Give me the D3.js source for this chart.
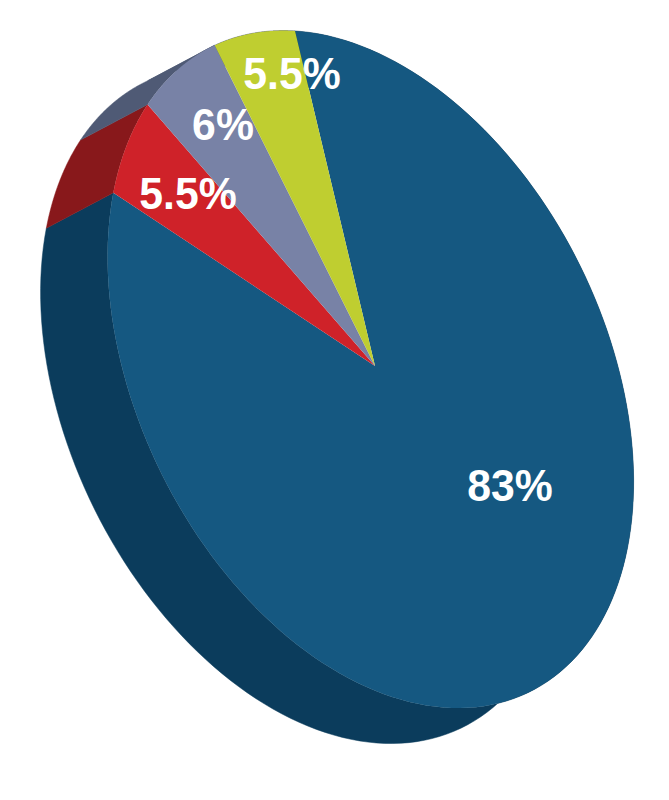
<!DOCTYPE html>
<html><head><meta charset="utf-8">
<style>html,body{margin:0;padding:0;background:#fff}svg{display:block}</style>
<script src="https://cdn.jsdelivr.net/npm/d3@7"></script></head>
<body><svg id="c" width="669" height="800"></svg>
<script>
const labels=["83%","5.5%","6%","5.5%"];
const shares=[83,5.5,6,5.5];
const topColors=["#155881","#cf2229","#7882a6","#bfce30"];
const sideColors=["#0b3c5c","#88181b","#4f5a75","#4f5a75"];
const labelPos=[[510,485],[188,193],[223,124],[292,73]];

const svg=d3.select("#c");
const cx=375,cy=366;
const U=[-80.8,-338.5],V=[250.2,9],W=[0.0103,0.0209];
const depth=[-67,35.5];
// perspective projection of the pie's unit circle on to the page
const rimPoint=t=>{
  const c=Math.cos(t),s=Math.sin(t),d=1+W[0]*c+W[1]*s;
  return [cx+(U[0]*c+V[0]*s)/d, cy+(U[1]*c+V[1]*s)/d];
};
const arcs=d3.pie().sort(null).value(d=>d)(shares);
const line=d3.line();
const rims=arcs.map(a=>{
  const n=160;
  return d3.range(n+1).map(k=>rimPoint(a.startAngle+(a.endAngle-a.startAngle)*k/n));
});

// side walls
const walls=svg.append("g");
rims.forEach((rim,i)=>{
  const low=rim.map(p=>[p[0]+depth[0],p[1]+depth[1]]).reverse();
  walls.append("path").attr("d",line(rim.concat(low))+"Z")
    .attr("fill",sideColors[i]).attr("stroke",sideColors[i]).attr("stroke-width",0.5);
});

// top face
svg.append("g").selectAll("path").data(rims).join("path")
  .attr("d",r=>line([[cx,cy]].concat(r))+"Z")
  .attr("fill",(d,i)=>topColors[i]);

// labels
svg.append("g").selectAll("text").data(labels).join("text")
  .attr("transform",(d,i)=>`translate(${labelPos[i][0]},${labelPos[i][1]}) scale(0.95,1)`)
  .attr("text-anchor","middle").attr("dominant-baseline","central")
  .attr("font-family","Liberation Sans, Arial, sans-serif").attr("font-weight","bold")
  .attr("font-size",45).attr("fill","#fff").text(d=>d);
</script></body></html>
